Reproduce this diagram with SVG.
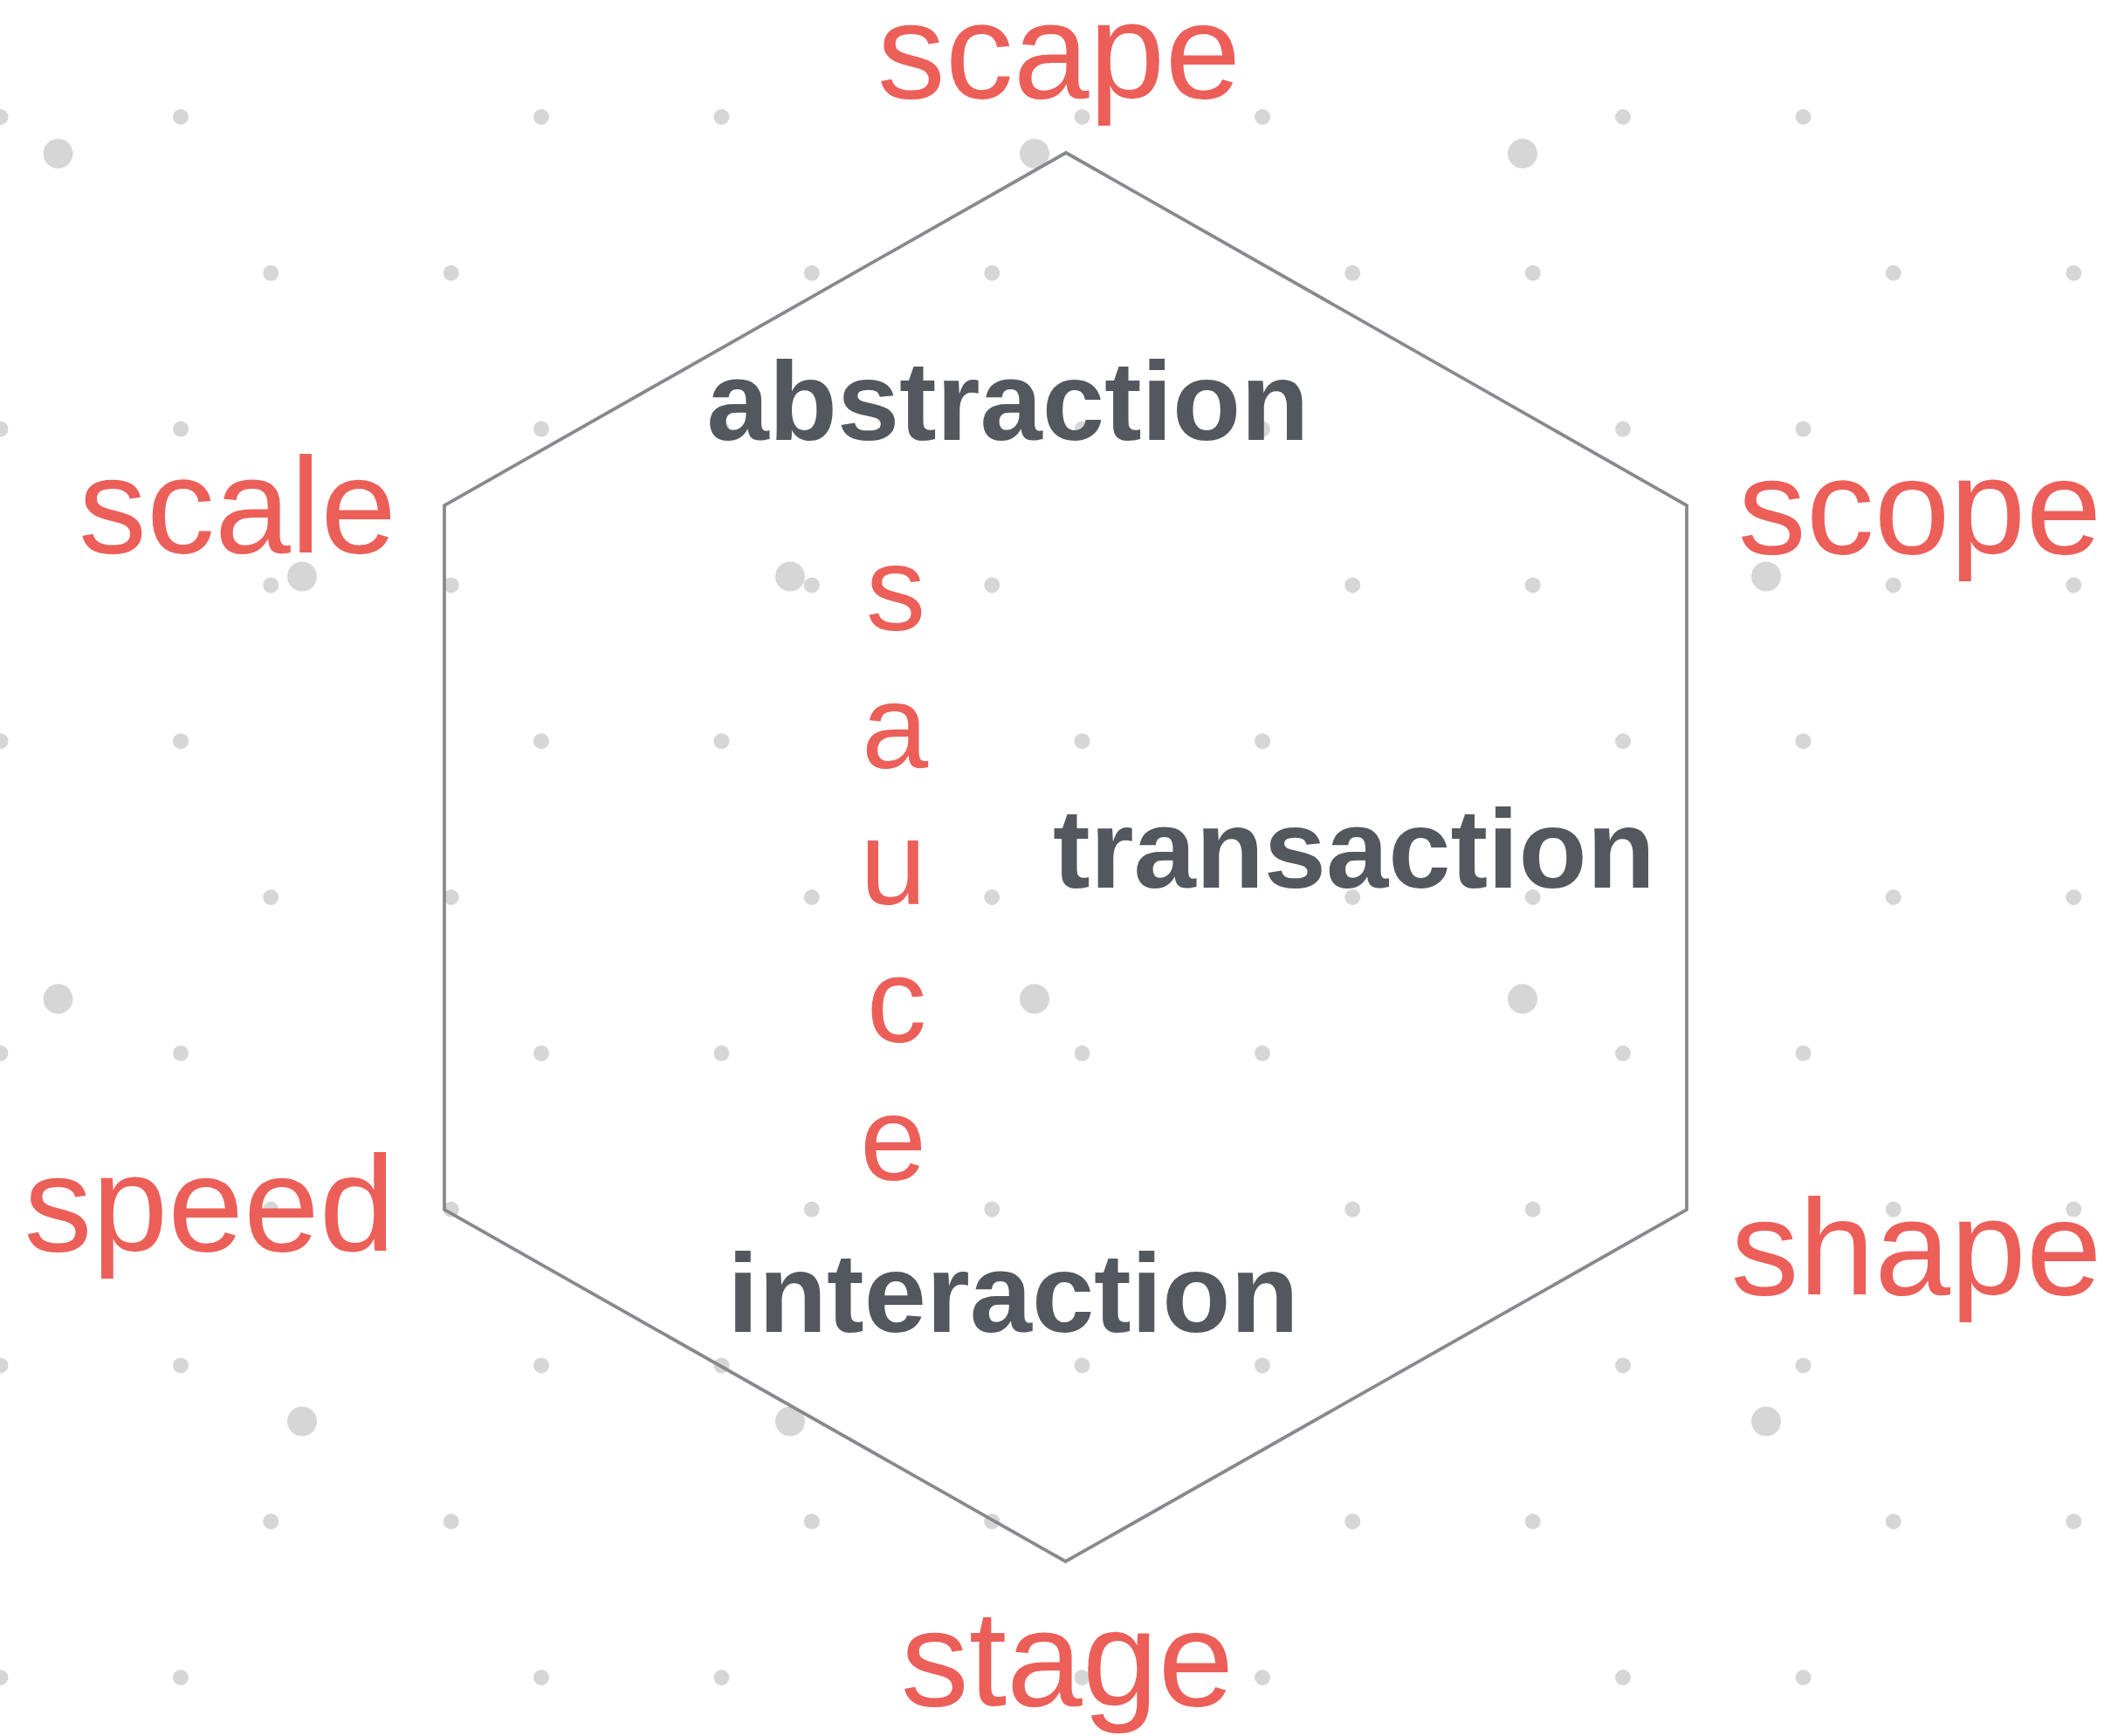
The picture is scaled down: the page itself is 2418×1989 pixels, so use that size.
<svg xmlns="http://www.w3.org/2000/svg" xmlns:xlink="http://www.w3.org/1999/xlink" width="2418" height="1989" viewBox="0 0 2418 1989">
<style>
.dot{fill:#d6d6d6}
.red{font-family:"Liberation Sans",Arial,Helvetica,sans-serif;fill:#ec5f59;text-anchor:middle}
.outer{font-size:156px}
.letter{font-size:137px}
.dark{font-family:"Liberation Sans",Arial,Helvetica,sans-serif;font-weight:bold;font-size:128px;fill:#53575e;text-anchor:middle}
.hex{fill:none;stroke:#87898d;stroke-width:3.8;stroke-linejoin:miter}
</style>
<defs>
<circle id="sd" r="9" class="dot"/>
<circle id="ld" r="17" class="dot"/>
<g id="rowE">
<use xlink:href="#sd" x="0.5"/><use xlink:href="#sd" x="207"/><use xlink:href="#sd" x="620"/><use xlink:href="#sd" x="826.5"/><use xlink:href="#sd" x="1239.5"/><use xlink:href="#sd" x="1446"/><use xlink:href="#sd" x="1859"/><use xlink:href="#sd" x="2065.5"/>
</g>
<g id="rowO">
<use xlink:href="#sd" x="310.25"/><use xlink:href="#sd" x="516.75"/><use xlink:href="#sd" x="929.75"/><use xlink:href="#sd" x="1136.25"/><use xlink:href="#sd" x="1549.25"/><use xlink:href="#sd" x="1755.75"/><use xlink:href="#sd" x="2168.75"/><use xlink:href="#sd" x="2375.25"/>
</g>
</defs>
<rect width="2418" height="1989" fill="#ffffff"/>
<g id="grid-small">
<use xlink:href="#rowE" y="134"/>
<use xlink:href="#rowO" y="312.8"/>
<use xlink:href="#rowE" y="491.6"/>
<use xlink:href="#rowO" y="670.4"/>
<use xlink:href="#rowE" y="849.2"/>
<use xlink:href="#rowO" y="1028"/>
<use xlink:href="#rowE" y="1206.8"/>
<use xlink:href="#rowO" y="1385.6"/>
<use xlink:href="#rowE" y="1564.4"/>
<use xlink:href="#rowO" y="1743.2"/>
<use xlink:href="#rowE" y="1922"/>
</g>
<g id="grid-large">
<use xlink:href="#ld" x="66.5" y="176"/><use xlink:href="#ld" x="1185" y="176"/><use xlink:href="#ld" x="1744" y="176"/>
<use xlink:href="#ld" x="346" y="660.5"/><use xlink:href="#ld" x="905" y="660.5"/><use xlink:href="#ld" x="2023" y="660.5"/>
<use xlink:href="#ld" x="66.5" y="1144.5"/><use xlink:href="#ld" x="1185" y="1144.5"/><use xlink:href="#ld" x="1744" y="1144.5"/>
<use xlink:href="#ld" x="346" y="1628.5"/><use xlink:href="#ld" x="905" y="1628.5"/><use xlink:href="#ld" x="2023" y="1628.5"/>
</g>
<g id="hexagon">
<polygon class="hex" points="1221,175 1932,579 1932,1386 1220.5,1789 509,1386 509,579"/>
</g>
<g id="label-scape"><text class="red outer" x="1213" y="112">scape</text></g>
<g id="label-scale"><text class="red outer" x="272" y="633">scale</text></g>
<g id="label-scope"><text class="red outer" x="2199" y="634">scope</text></g>
<g id="label-speed"><text class="red outer" x="240" y="1433">speed</text></g>
<g id="label-shape"><text class="red outer" x="2195" y="1483">shape</text></g>
<g id="label-stage"><text class="red outer" x="1222.5" y="1954">stage</text></g>
<g id="label-abstraction"><text class="dark" x="1154.5" y="504">abstraction</text></g>
<g id="label-transaction"><text class="dark" x="1551" y="1017">transaction</text></g>
<g id="label-interaction"><text class="dark" x="1160.5" y="1526">interaction</text></g>
<g id="label-sauce">
<text class="red letter" x="1026" y="722">s</text>
<text class="red letter" x="1025" y="880">a</text>
<text class="red letter" x="1023" y="1036">u</text>
<text class="red letter" x="1027" y="1194">c</text>
<text class="red letter" x="1023" y="1352">e</text>
</g>
</svg>
